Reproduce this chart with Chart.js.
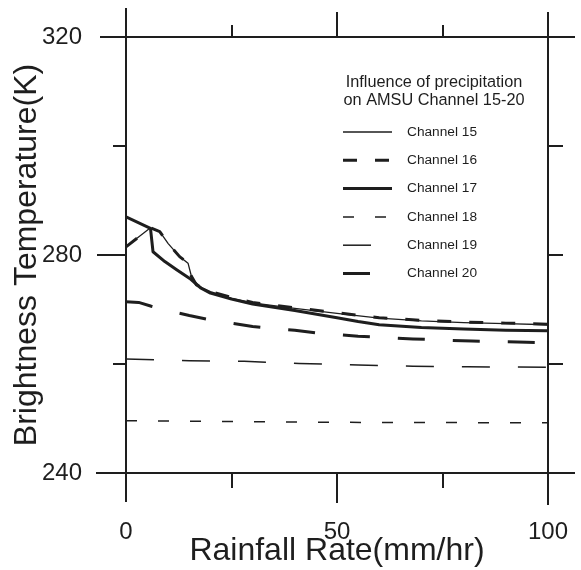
<!DOCTYPE html>
<html lang="en">
<head>
<meta charset="UTF-8">
<title>Influence of precipitation on AMSU Channel 15-20</title>
<script src="https://cdn.jsdelivr.net/npm/chart.js@4.4.1/dist/chart.umd.min.js"></script>
<style>
  html, body { margin: 0; padding: 0; background: #fff; }
  #wrap { width: 581px; height: 570px; }
</style>
</head>
<body>
<div id="wrap"><canvas id="amsuChart" width="581" height="570"></canvas></div>
<script>
// values: rain rate (mm/hr) -> brightness temperature (K)
const ch15Rain = [0, 5.8, 8, 10, 12.7, 14.7, 15.5, 16.7, 20, 25, 30, 40, 50, 60, 70, 80, 90, 100];
const ch15Temp = [281.5, 285, 284.3, 282.1, 279.7, 278.5, 276.1, 274.5, 273.3, 272.1, 271.2, 270.2, 269.3, 268.4, 267.9, 267.6, 267.4, 267.2];

const ch16Rain = [0, 5.8, 8, 10, 12.7, 14.7, 15.5, 16.7, 20, 25, 30, 40, 50, 60, 70, 80, 90, 100];
const ch16Temp = [281.5, 285, 284.3, 282.1, 279.7, 278.5, 276.1, 274.5, 273.3, 272.2, 271.3, 270.3, 269.4, 268.5, 268.0, 267.7, 267.5, 267.3];

const ch17Rain = [0, 5.8, 6.4, 9.2, 12, 15.1, 17.8, 20, 25, 30, 40, 50, 55, 60, 70, 80, 90, 100];
const ch17Temp = [287, 284.9, 280.6, 278.8, 277.3, 275.7, 273.9, 273, 271.9, 271, 269.8, 268.5, 267.8, 267.2, 266.7, 266.4, 266.2, 266.1];

const ch18Rain = [0, 50, 100];
const ch18Temp = [249.6, 249.3, 249.2];

const ch19Rain = [0, 15, 28, 41, 55, 68, 81, 100];
const ch19Temp = [260.9, 260.6, 260.5, 260.1, 259.8, 259.6, 259.5, 259.4];

const ch20Rain = [0, 3, 6, 10, 15, 20, 25, 30, 35, 40, 45, 55, 68, 82, 95, 100];
const ch20Temp = [271.4, 271.3, 270.6, 269.8, 268.9, 268.1, 267.5, 266.9, 266.5, 266.2, 265.7, 265.1, 264.6, 264.2, 264.0, 263.9];

const channelNames = ['Channel 15', 'Channel 16', 'Channel 17', 'Channel 18', 'Channel 19', 'Channel 20'];
const legendTitle = ['Influence of precipitation', 'on AMSU Channel 15-20'];

const xLabelValues = [0, 50, 100];
const yLabelValues = [240, 280, 320];

const ink = '#1e1e1e';
const fontFamily = '"Liberation Sans", Arial, Helvetica, sans-serif';

function pairs(xs, ys) {
    return xs.map((x, i) => ({ x: x, y: ys[i] }));
}

function lineSet(label, xs, ys, width, dash) {
    return {
        label: label,
        data: pairs(xs, ys),
        borderColor: ink,
        borderWidth: width,
        borderDash: dash,
        borderJoinStyle: 'round',
        pointRadius: 0,
        fill: false,
        tension: 0
    };
}

// fixed box sizes; label overflow is allowed to spill, like the printed figure
function fixSize(w, h) {
    return s => {
        if (w !== null) s.width = w;
        if (h !== null) s.height = h;
        s.paddingTop = 0; s.paddingBottom = 0;
        s.paddingLeft = 0; s.paddingRight = 0;
    };
}

// axis lines run past the box corners in the original drawing
const frameExtras = {
    id: 'frameExtras',
    afterDraw(chart) {
        const { ctx, chartArea: a } = chart;
        const y280 = chart.scales.y.getPixelForValue(280);
        const x50 = chart.scales.x.getPixelForValue(50);
        ctx.save();
        ctx.strokeStyle = ink;
        ctx.lineWidth = 2;
        ctx.beginPath();
        ctx.moveTo(a.left, a.top - 29); ctx.lineTo(a.left, a.bottom + 29);
        ctx.moveTo(a.right, a.top - 25); ctx.lineTo(a.right, a.bottom + 32);
        ctx.moveTo(a.left - 26, a.top); ctx.lineTo(a.right + 27, a.top);
        ctx.moveTo(a.left - 30, a.bottom); ctx.lineTo(a.right + 27, a.bottom);
        ctx.moveTo(a.left - 29, y280); ctx.lineTo(a.left, y280);
        ctx.moveTo(x50, a.top - 25); ctx.lineTo(x50, a.top);
        ctx.moveTo(x50, a.bottom); ctx.lineTo(x50, a.bottom + 30);
        ctx.stroke();
        ctx.restore();
    }
};

const legendBox = {
    id: 'legendBox',
    afterDatasetsDraw(chart, args, opts) {
        const { ctx, chartArea: a } = chart;
        ctx.save();
        ctx.fillStyle = ink;
        ctx.textBaseline = 'middle';
        ctx.textAlign = 'center';
        ctx.font = '16.3px ' + fontFamily;
        legendTitle.forEach((t, i) => ctx.fillText(t, a.left + 308, a.top + 46 + i * 17.5));
        ctx.font = '13.7px ' + fontFamily;
        chart.data.datasets.forEach((ds, i) => {
            const y = a.top + 95 + i * 28.3;
            ctx.strokeStyle = ds.borderColor;
            ctx.lineWidth = ds.borderWidth;
            ctx.setLineDash(ds.borderDash || []);
            ctx.beginPath();
            ctx.moveTo(a.left + 217, y);
            ctx.lineTo(a.left + 217 + opts.sampleLengths[i], y);
            ctx.stroke();
            ctx.setLineDash([]);
            ctx.textAlign = 'left';
            ctx.fillText(ds.label, a.left + 281, y);
        });
        ctx.restore();
    }
};

const axisGrid = { drawOnChartArea: false, drawTicks: true, tickLength: 13, color: ink, lineWidth: 2 };
const axisBorder = { display: true, color: ink, width: 2 };

new Chart(document.getElementById('amsuChart'), {
    type: 'line',
    data: {
        datasets: [
            lineSet(channelNames[0], ch15Rain, ch15Temp, 1.3, []),
            lineSet(channelNames[1], ch16Rain, ch16Temp, 3, [14, 18]),
            lineSet(channelNames[2], ch17Rain, ch17Temp, 3, []),
            lineSet(channelNames[3], ch18Rain, ch18Temp, 1.5, [11, 21]),
            lineSet(channelNames[4], ch19Rain, ch19Temp, 1.5, [28, 28]),
            lineSet(channelNames[5], ch20Rain, ch20Temp, 3, [27, 28])
        ]
    },
    options: {
        responsive: false,
        animation: false,
        devicePixelRatio: 1,
        layout: { padding: 0 },
        plugins: {
            legend: { display: false },
            tooltip: { enabled: false },
            legendBox: { sampleLengths: [49, 49, 49, 49, 30, 30] }
        },
        scales: {
            x: {
                type: 'linear', position: 'bottom', min: 0, max: 100,
                grid: { ...axisGrid, tickLength: 15 },
                border: axisBorder,
                ticks: {
                    stepSize: 25, autoSkip: false, maxRotation: 0, padding: 30,
                    color: ink, font: { family: fontFamily, size: 24 },
                    callback: v => xLabelValues.includes(v) ? String(v) : ''
                },
                title: {
                    display: true, text: 'Rainfall Rate(mm/hr)', color: ink,
                    font: { family: fontFamily, size: 32 }, padding: { top: 0, bottom: 0 }
                },
                afterFit: fixSize(null, 97)
            },
            x2: {
                type: 'linear', position: 'top', min: 0, max: 100,
                grid: { ...axisGrid, tickLength: 12 },
                border: axisBorder,
                ticks: { stepSize: 25, autoSkip: false, display: false },
                afterFit: fixSize(null, 37)
            },
            y: {
                type: 'linear', position: 'left', min: 240, max: 320,
                grid: axisGrid,
                border: axisBorder,
                ticks: {
                    stepSize: 20, padding: 31,
                    color: ink, font: { family: fontFamily, size: 24 },
                    callback: v => yLabelValues.includes(v) ? String(v) : ''
                },
                title: {
                    display: true, text: 'Brightness Temperature(K)', color: ink,
                    font: { family: fontFamily, size: 32 }, padding: { top: 8, bottom: 0 }
                },
                afterFit: fixSize(126, null)
            },
            y2: {
                type: 'linear', position: 'right', min: 240, max: 320,
                grid: { ...axisGrid, tickLength: 15 },
                border: axisBorder,
                ticks: { stepSize: 20, display: false },
                afterFit: fixSize(33, null)
            }
        }
    },
    plugins: [frameExtras, legendBox]
});
</script>
</body>
</html>
